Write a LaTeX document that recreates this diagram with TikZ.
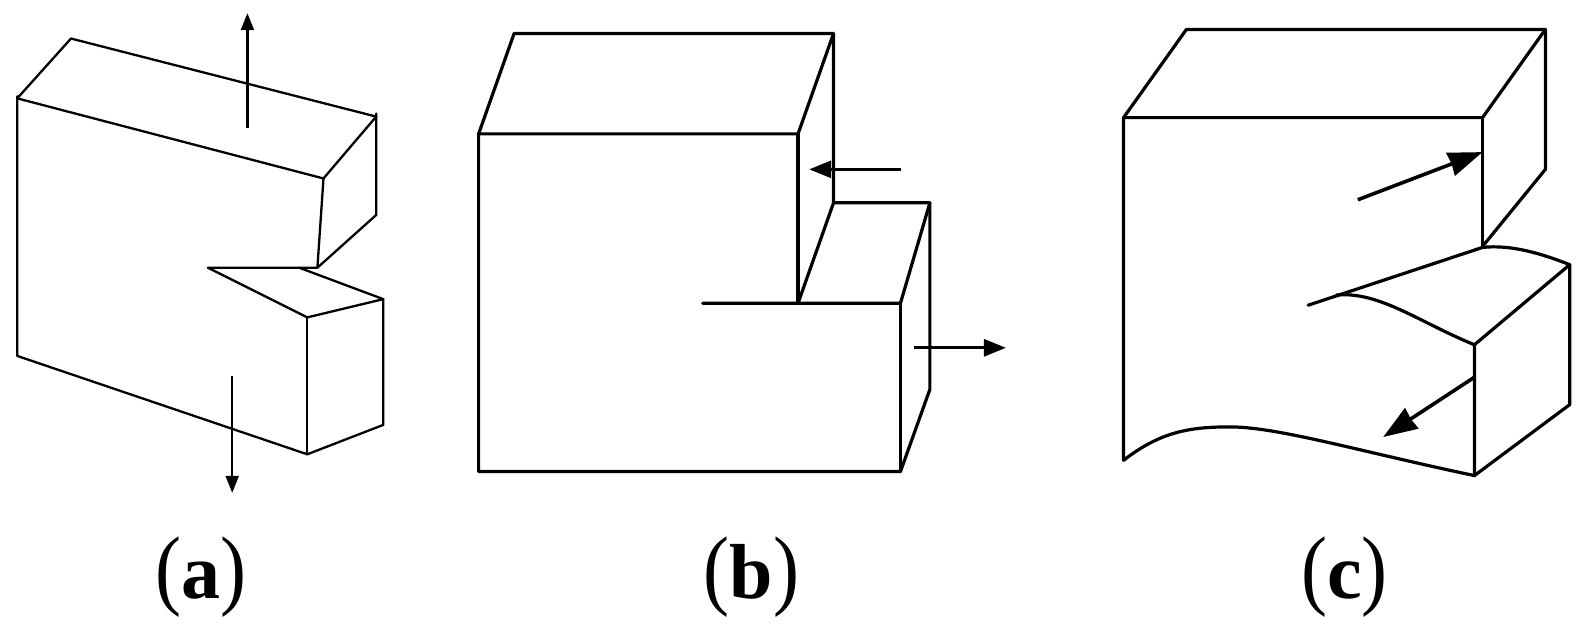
\documentclass[tikz,border=0pt]{standalone}
\usepackage{graphicx}
\usepackage{fontspec}
\setmainfont{Liberation Serif}
\usetikzlibrary{arrows.meta}
\newcommand{\lp}{\scalebox{1}[1.14]{(}}
\newcommand{\rp}{\scalebox{1}[1.14]{)}}
\tikzset{
 edgeA/.style={line width=2.3pt,line cap=round,line join=round},
 edgeB/.style={line width=3.2pt,line cap=round,line join=round},
 arrA/.style={line width=2.2pt,-{Triangle[length=17pt,width=13pt]}},
 arrB/.style={line width=3pt,-{Triangle[length=22pt,width=17pt]}},
 arrC/.style={line width=3.6pt,-{Stealth[length=34pt,width=24pt,inset=1pt]}},
 lab/.style={font=\fontsize{78pt}{78pt}\selectfont,inner sep=0pt,anchor=base}
}
\begin{document}
\begin{tikzpicture}[x=1.014pt,y=-1.014pt]
\useasboundingbox (0,0) rectangle (1568,628.2);
\fill[white] (0,0) rectangle (1568,628.2);
% (a)
\draw[edgeA] (17,97) -- (70,38) -- (371,115);
\draw[edgeA] (371,112) -- (371,212) -- (313,264) -- (205,264) -- (303,313) -- (378,295) -- (378,419) -- (303,448) -- (17,351) -- (17,95);
\draw[edgeA] (17,97) -- (319,176) -- (371,115);
\draw[edgeA] (319,176) -- (313,264);
\draw[edgeA] (295,264) -- (378,295);
\draw[edgeA] (303,313) -- (303,448);
\coordinate (a1) at (244,126); \coordinate (a2) at (244,13);
\coordinate (a3) at (229,371); \coordinate (a4) at (229,486);
\draw[arrA] (a1) -- (a2);
\draw[arrA] (a3) -- (a4);
% (b)
\draw[edgeB] (472,132) -- (507,33) -- (822,33) -- (822,200) -- (917,200) -- (917,384) -- (888,465) -- (472,465) -- cycle;
\draw[edgeB] (472,132) -- (787,132) -- (822,33);
\draw[edgeB] (787,132) -- (787,299);
\draw[edgeB] (693,299) -- (888,299) -- (917,200);
\draw[edgeB] (787,299) -- (822,200);
\draw[edgeB] (888,299) -- (888,465);
\coordinate (b1) at (889,167); \coordinate (b2) at (798,167);
\coordinate (b3) at (901,343); \coordinate (b4) at (992,343);
\draw[arrB] (b1) -- (b2);
\draw[arrB] (b3) -- (b4);
% (c)
\draw[edgeB] (1108,116) -- (1170,29) -- (1524,29) -- (1524,167) -- (1462,243);
\draw[edgeB] (1108,116) -- (1462,116) -- (1524,29);
\draw[edgeB] (1108,116) -- (1108,454) .. controls (1145,425) and (1175,421) .. (1213,421) .. controls (1260,421) and (1340,445) .. (1454,469) -- (1548,399) -- (1548,261);
\draw[edgeB] (1462,116) -- (1462,243);
\draw[edgeB] (1290,301) -- (1462,244) .. controls (1490,241) and (1520,250) .. (1548,261) -- (1454,340) -- (1454,469);
\draw[edgeB] (1318,291) .. controls (1360,287) and (1400,318) .. (1454,340);
\coordinate (c1) at (1339,197); \coordinate (c2) at (1462,150);
\coordinate (c3) at (1454,372); \coordinate (c4) at (1364,431);
\draw[arrC] (c1) -- (c2);
\draw[arrC] (c3) -- (c4);
% labels
\node[lab] (la) at (198,590.7) {\lp\textbf{a}\rp};
\node[lab] (lb) at (741,590.7) {\lp\textbf{b}\rp};
\node[lab] (lc) at (1326,590.7) {\lp\textbf{c}\rp};
\end{tikzpicture}
\end{document}
